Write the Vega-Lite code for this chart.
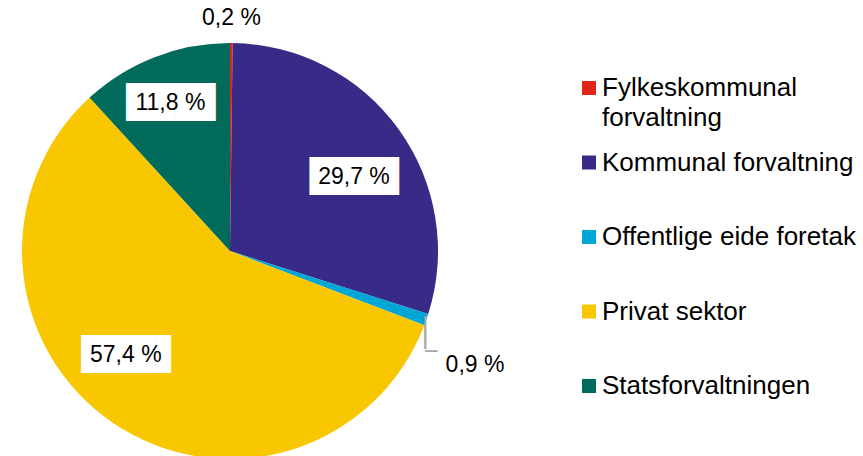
{
  "$schema": "https://vega.github.io/schema/vega-lite/v6.json",
  "width": 863,
  "height": 456,
  "padding": 0,
  "autosize": {"type": "none"},
  "background": "white",
  "config": {"view": {"stroke": null}, "font": "Liberation Sans"},
  "data": {
    "values": [
      {"sektor": "Fylkeskommunal forvaltning", "andel": 0.2, "label": "0,2 %"},
      {"sektor": "Kommunal forvaltning", "andel": 29.7, "label": "29,7 %"},
      {"sektor": "Offentlige eide foretak", "andel": 0.9, "label": "0,9 %"},
      {"sektor": "Privat sektor", "andel": 57.4, "label": "57,4 %"},
      {"sektor": "Statsforvaltningen", "andel": 11.8, "label": "11,8 %"}
    ]
  },
  "encoding": {
    "theta": {"field": "andel", "type": "quantitative", "stack": true},
    "order": {"field": "sektor", "sort": "ascending"},
    "color": {
      "field": "sektor",
      "type": "nominal",
      "scale": {
        "domain": ["Fylkeskommunal forvaltning", "Kommunal forvaltning", "Offentlige eide foretak", "Privat sektor", "Statsforvaltningen"],
        "range": ["#e2231a", "#372b87", "#00a6d6", "#f9c700", "#006b5a"]
      },
      "legend": {
        "orient": "none",
        "legendX": 576,
        "legendY": 75,
        "title": null,
        "symbolType": "square",
        "symbolSize": 196,
        "symbolStrokeWidth": 0,
        "labelFontSize": 26,
        "labelFont": "Liberation Sans",
        "labelColor": "black",
        "labelOffset": 0,
        "labelLimit": 400,
        "labelBaseline": "middle",
        "rowPadding": 18.5,
        "gridAlign": "all",
        "labelExpr": "datum.label == 'Fylkeskommunal forvaltning' ? ['Fylkeskommunal', 'forvaltning'] : datum.label",
        "encode": {"labels": {"update": {"lineHeight": {"value": 30}}}}
      }
    }
  },
  "layer": [
    {
      "mark": {"type": "arc", "outerRadius": 208, "x": 230, "y": 251}
    },
    {
      "mark": {
        "type": "text", "radius": 148, "x": 230, "y": 251, "font": "DejaVu Sans", "fontSize": 32, "baseline": "middle",
        "dx": {"expr": "datum.sektor == 'Privat sektor' ? -16 : datum.sektor == 'Statsforvaltningen' ? -1 : 9"},
        "dy": {"expr": "datum.sektor == 'Privat sektor' ? -18 : datum.sektor == 'Statsforvaltningen' ? -10 : 13"}
      },
      "encoding": {
        "fill": {"value": "white"},
        "text": {"condition": {"test": "datum.andel > 5", "value": "███▋"}, "value": ""}
      }
    },
    {
      "mark": {
        "type": "text", "radius": 148, "x": 230, "y": 251, "fontSize": 23, "baseline": "middle",
        "dx": {"expr": "datum.sektor == 'Privat sektor' ? -21 : datum.sektor == 'Statsforvaltningen' ? -6 : 4"},
        "dy": {"expr": "datum.sektor == 'Privat sektor' ? -18 : datum.sektor == 'Statsforvaltningen' ? -10 : 13"}
      },
      "encoding": {
        "fill": {"value": "black"},
        "text": {"condition": {"test": "datum.andel > 5", "field": "label"}, "value": ""}
      }
    },
    {
      "mark": {"type": "text", "radius": 233, "x": 230, "y": 251, "fontSize": 23, "baseline": "middle"},
      "encoding": {
        "fill": {"value": "black"},
        "text": {"condition": {"test": "datum.sektor == 'Fylkeskommunal forvaltning'", "field": "label"}, "value": ""}
      }
    },
    {
      "mark": {"type": "text", "radius": 250, "x": 230, "y": 251, "dx": 9, "dy": 32, "fontSize": 23, "baseline": "middle"},
      "encoding": {
        "fill": {"value": "black"},
        "text": {"condition": {"test": "datum.sektor == 'Offentlige eide foretak'", "field": "label"}, "value": ""}
      }
    },
    {
      "mark": {"type": "text", "radius": 208, "x": 230, "y": 251, "dx": -1, "dy": 0, "font": "DejaVu Sans", "fontSize": 28, "align": "center", "baseline": "top"},
      "encoding": {
        "fill": {"value": "#a6a6a6"},
        "text": {"condition": {"test": "datum.sektor == 'Offentlige eide foretak'", "value": "│"}, "value": ""}
      }
    },
    {
      "mark": {"type": "text", "radius": 208, "x": 230, "y": 251, "dx": -1, "dy": 32, "font": "DejaVu Sans", "fontSize": 20, "align": "left", "baseline": "middle"},
      "encoding": {
        "fill": {"value": "#a6a6a6"},
        "text": {"condition": {"test": "datum.sektor == 'Offentlige eide foretak'", "value": "─"}, "value": ""}
      }
    }
  ]
}
